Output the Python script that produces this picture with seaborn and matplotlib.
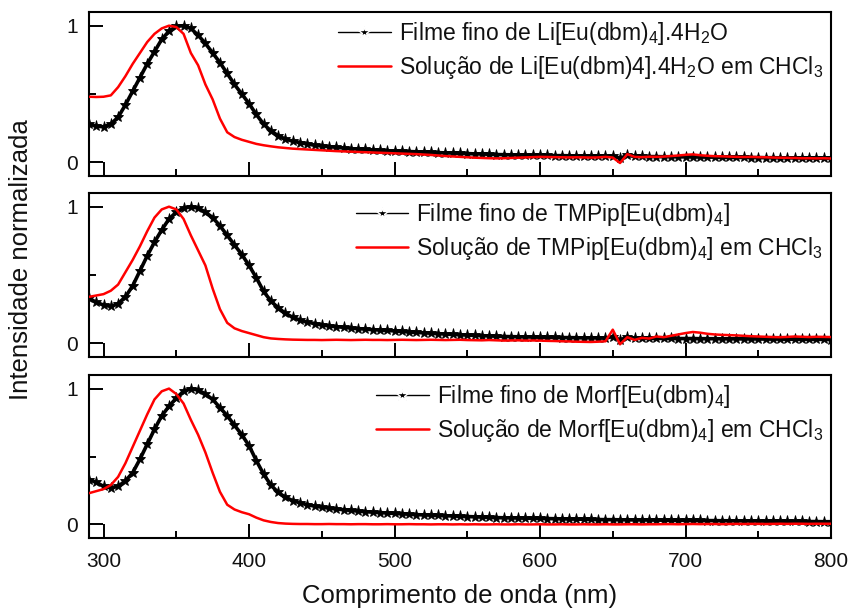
import numpy as np
import matplotlib
matplotlib.use("Agg")
import matplotlib.pyplot as plt
from matplotlib.ticker import MultipleLocator
import seaborn as sns

# ---------------- data ----------------
wavelength = list(range(290, 801, 5))

li_film = [0.28, 0.265, 0.26, 0.28, 0.33, 0.42, 0.52, 0.62, 0.72, 0.81,
           0.90, 0.96, 0.995, 1.00, 0.98, 0.93, 0.87, 0.80, 0.73, 0.65,
           0.57, 0.50, 0.43, 0.35, 0.28, 0.23, 0.195, 0.17, 0.155, 0.145,
           0.135, 0.125, 0.12, 0.115, 0.11, 0.105, 0.10, 0.097, 0.094, 0.09,
           0.087, 0.085, 0.083, 0.081, 0.079, 0.077, 0.075, 0.073, 0.071, 0.069,
           0.068, 0.066, 0.064, 0.062, 0.061, 0.059, 0.057, 0.056, 0.055, 0.054,
           0.053, 0.052, 0.051, 0.05, 0.049, 0.049, 0.048, 0.047, 0.046, 0.046,
           0.045, 0.044, 0.047, 0.03, 0.05, 0.044, 0.043, 0.042, 0.042, 0.041,
           0.041, 0.04, 0.04, 0.039, 0.039, 0.038, 0.038, 0.037, 0.037, 0.036,
           0.036, 0.035, 0.035, 0.034, 0.034, 0.033, 0.033, 0.032, 0.032, 0.031,
           0.031, 0.03, 0.03]
li_sol = [0.48, 0.478, 0.48, 0.49, 0.55, 0.63, 0.72, 0.80, 0.88, 0.94,
          0.98, 1.00, 0.99, 0.94, 0.80, 0.71, 0.57, 0.46, 0.32, 0.22,
          0.185, 0.165, 0.15, 0.135, 0.125, 0.117, 0.11, 0.105, 0.10, 0.097,
          0.094, 0.091, 0.088, 0.085, 0.082, 0.08, 0.078, 0.076, 0.074, 0.072,
          0.07, 0.068, 0.066, 0.064, 0.062, 0.06, 0.057, 0.054, 0.05, 0.046,
          0.043, 0.04, 0.037, 0.034, 0.032, 0.03, 0.029, 0.03, 0.032, 0.034,
          0.036, 0.038, 0.04, 0.039, 0.038, 0.037, 0.036, 0.037, 0.036, 0.035,
          0.036, 0.04, 0.035, -0.005, 0.06, 0.04, 0.038, 0.041, 0.04, 0.042,
          0.046, 0.05, 0.055, 0.058, 0.052, 0.048, 0.045, 0.044, 0.042, 0.04,
          0.039, 0.04, 0.038, 0.037, 0.035, 0.034, 0.033, 0.032, 0.03, 0.03,
          0.029, 0.03, 0.028]

tmp_film = [0.33, 0.30, 0.28, 0.27, 0.29, 0.34, 0.42, 0.53, 0.64, 0.74,
            0.83, 0.91, 0.96, 0.99, 1.00, 0.99, 0.96, 0.92, 0.86, 0.79,
            0.72, 0.65, 0.57, 0.48, 0.38, 0.31, 0.26, 0.22, 0.19, 0.17,
            0.155, 0.145, 0.135, 0.128, 0.122, 0.117, 0.112, 0.108, 0.104, 0.10,
            0.097, 0.094, 0.091, 0.087, 0.083, 0.08, 0.077, 0.074, 0.071, 0.068,
            0.065, 0.063, 0.06, 0.058, 0.056, 0.054, 0.052, 0.05, 0.049, 0.048,
            0.047, 0.046, 0.045, 0.044, 0.043, 0.042, 0.042, 0.041, 0.04, 0.04,
            0.039, 0.038, 0.05, 0.025, 0.045, 0.038, 0.037, 0.037, 0.036, 0.036,
            0.036, 0.035, 0.035, 0.035, 0.034, 0.034, 0.034, 0.033, 0.033, 0.033,
            0.032, 0.032, 0.032, 0.031, 0.031, 0.031, 0.03, 0.03, 0.03, 0.03,
            0.029, 0.029, 0.028]
tmp_sol = [0.34, 0.35, 0.36, 0.385, 0.43, 0.52, 0.61, 0.71, 0.82, 0.92,
           0.98, 1.00, 0.98, 0.91, 0.79, 0.68, 0.57, 0.40, 0.25, 0.15,
           0.11, 0.09, 0.075, 0.06, 0.045, 0.036, 0.032, 0.029, 0.027, 0.026,
           0.025, 0.025, 0.024, 0.025, 0.026, 0.025, 0.024, 0.025, 0.026, 0.025,
           0.025, 0.024, 0.025, 0.026, 0.025, 0.024, 0.025, 0.026, 0.025, 0.024,
           0.025, 0.026, 0.024, 0.023, 0.022, 0.024, 0.022, 0.02, 0.021, 0.022,
           0.02, 0.021, 0.02, 0.018, 0.017, 0.015, 0.014, 0.012, 0.011, 0.01,
           0.012, 0.015, 0.10, -0.007, 0.045, 0.025, 0.04, 0.035, 0.05, 0.045,
           0.055, 0.065, 0.075, 0.083, 0.078, 0.07, 0.065, 0.062, 0.06, 0.058,
           0.055, 0.052, 0.05, 0.048, 0.046, 0.045, 0.047, 0.05, 0.048, 0.046,
           0.048, 0.047, 0.046]

morf_film = [0.33, 0.31, 0.28, 0.27, 0.28, 0.32, 0.38, 0.48, 0.59, 0.70,
             0.80, 0.87, 0.93, 0.98, 1.00, 0.99, 0.96, 0.92, 0.86, 0.80,
             0.73, 0.66, 0.58, 0.47, 0.37, 0.29, 0.235, 0.20, 0.175, 0.16,
             0.145, 0.135, 0.127, 0.12, 0.114, 0.108, 0.103, 0.098, 0.094, 0.09,
             0.087, 0.084, 0.081, 0.078, 0.075, 0.072, 0.07, 0.068, 0.066, 0.064,
             0.062, 0.06, 0.058, 0.056, 0.054, 0.052, 0.05, 0.049, 0.048, 0.047,
             0.046, 0.045, 0.044, 0.043, 0.042, 0.041, 0.04, 0.039, 0.038, 0.037,
             0.036, 0.035, 0.035, 0.034, 0.034, 0.033, 0.033, 0.032, 0.032, 0.031,
             0.031, 0.03, 0.03, 0.029, 0.029, 0.028, 0.028, 0.027, 0.027, 0.026,
             0.026, 0.025, 0.025, 0.024, 0.024, 0.023, 0.023, 0.022, 0.022, 0.021,
             0.021, 0.02, 0.02]
morf_sol = [0.23, 0.245, 0.26, 0.29, 0.35, 0.45, 0.57, 0.69, 0.81, 0.92,
            0.98, 1.00, 0.96, 0.89, 0.77, 0.66, 0.53, 0.38, 0.24, 0.145,
            0.11, 0.09, 0.075, 0.05, 0.03, 0.018, 0.01, 0.006, 0.004, 0.003,
            0.003, 0.002, 0.002, 0.003, 0.002, 0.002, 0.001, 0.002, 0.002, 0.001,
            0.001, 0.002, 0.001, 0.001, 0.002, 0.001, 0.001, 0.0, 0.001, 0.001,
            0.0, 0.001, 0.0, 0.001, 0.0, 0.0, 0.001, 0.0, 0.0, 0.001,
            0.0, 0.0, 0.001, 0.0, 0.0, 0.001, 0.0, 0.0, 0.001, 0.0,
            0.0, 0.001, 0.0, 0.0, 0.001, 0.001, 0.0, 0.001, 0.001, 0.002,
            0.002, 0.001, 0.002, 0.003, 0.002, 0.003, 0.003, 0.002, 0.003, 0.004,
            0.003, 0.004, 0.004, 0.003, 0.004, 0.005, 0.004, 0.005, 0.005, 0.004,
            0.005, 0.005, 0.005]

film_labels = [r"Filme fino de Li[Eu(dbm)$\mathregular{_4}$].4H$\mathregular{_2}$O",
               r"Filme fino de TMPip[Eu(dbm)$\mathregular{_4}$]",
               r"Filme fino de Morf[Eu(dbm)$\mathregular{_4}$]"]
sol_labels = [r"Solução de Li[Eu(dbm)4].4H$\mathregular{_2}$O em CHCl$\mathregular{_3}$",
              r"Solução de TMPip[Eu(dbm)$\mathregular{_4}$] em CHCl$\mathregular{_3}$",
              r"Solução de Morf[Eu(dbm)$\mathregular{_4}$] em CHCl$\mathregular{_3}$"]
x_ticks = [300, 400, 500, 600, 700, 800]
y_ticks = [0, 1]
x_label = "Comprimento de onda (nm)"
y_label = "Intensidade normalizada"

# ---------------- style ----------------
sns.set_theme(style="ticks")
plt.rcParams["font.family"] = ["Liberation Sans", "DejaVu Sans"]
plt.rcParams["mathtext.fontset"] = "custom"
plt.rcParams["mathtext.rm"] = "Liberation Sans"
plt.rcParams["mathtext.it"] = "Liberation Sans:italic"
plt.rcParams["mathtext.bf"] = "Liberation Sans:bold"

W, H = 850, 610
fig = plt.figure(figsize=(W / 100, H / 100), dpi=100)

left, right = 89, 831
panels_px = [(12, 176), (193, 357), (375, 538)]
films = [li_film, tmp_film, morf_film]
sols = [li_sol, tmp_sol, morf_sol]

for i, (top, bot) in enumerate(panels_px):
    ax = fig.add_axes([left / W, 1 - bot / H, (right - left) / W, (bot - top) / H])
    sns.lineplot(x=wavelength, y=films[i], ax=ax, color="black", linewidth=2.6,
                 marker="*", markersize=8, markeredgewidth=0.6,
                 markeredgecolor="black", label=film_labels[i], zorder=2)
    sns.lineplot(x=wavelength, y=sols[i], ax=ax, color="#ff0000", linewidth=1.8,
                 label=sol_labels[i], zorder=3)
    ax.set_xlim(290, 800)
    ax.set_ylim(-0.1, 1.1)
    ax.set_xticks(x_ticks)
    ax.set_yticks(y_ticks)
    ax.xaxis.set_minor_locator(MultipleLocator(50))
    ax.yaxis.set_minor_locator(MultipleLocator(0.5))
    ax.tick_params(which="major", direction="in", length=10, width=1.4,
                   labelsize=15, color="black", labelcolor="#111111")
    ax.tick_params(which="minor", direction="in", length=5, width=1.4, color="black")
    ax.tick_params(axis="x", pad=10)
    ax.tick_params(axis="y", pad=8)
    ax.tick_params(top=False, right=False, which="both")
    for s in ax.spines.values():
        s.set_linewidth(1.5)
        s.set_color("black")
    ax.set_xlabel("")
    ax.set_ylabel("")
    if i < 2:
        ax.tick_params(axis="x", labelbottom=False)
    leg = ax.legend(loc="upper right", frameon=False, fontsize=16.5,
                    handlelength=2.3, handletextpad=0.35, labelspacing=0.3,
                    borderaxespad=0.1, borderpad=0.25)
    h_film = leg.legend_handles[0]
    h_film.set_linewidth(1.0)
    h_film.set_markersize(9)
    h_film.set_markerfacecolor("black")
    h_film.set_markeredgecolor("white")
    h_film.set_markeredgewidth(1.0)
    for t in leg.get_texts():
        t.set_color("#111111")

fig.text(460 / W, 1 - 596 / H, x_label, ha="center", va="center",
         fontsize=18.5, color="#111111")
fig.text(21 / W, 1 - 260 / H, y_label, ha="center", va="center",
         rotation=90, fontsize=18.5, color="#111111")

fig.savefig("out.png", dpi=100)
